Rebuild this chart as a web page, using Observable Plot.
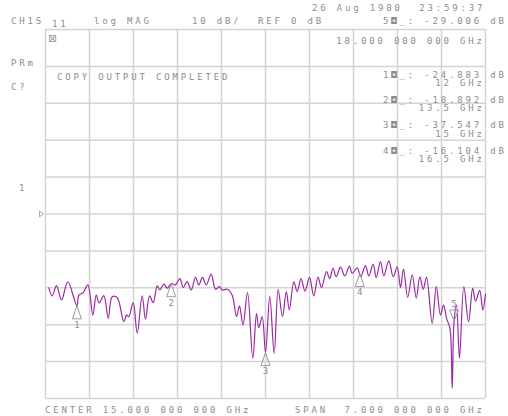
<!DOCTYPE html>
<html><head><meta charset="utf-8">
<script src="https://cdn.jsdelivr.net/npm/d3@7"></script>
<script src="https://cdn.jsdelivr.net/npm/@observablehq/plot@0.6"></script>
<style>
body{margin:0;background:#fff;}
#chart svg{display:block;}
</style></head><body><div id="chart"></div>
<script>
// S11 log magnitude trace (GHz, dB)
const freqGHz = [11.553,11.607,11.675,11.755,11.855,12.0,12.03,12.10,12.173,12.253,
12.307,12.354,12.428,12.498,12.561,12.641,12.746,12.789,12.825,12.895,
12.959,13.038,13.091,13.155,13.213,13.277,13.318,13.382,13.436,13.5,
13.568,13.637,13.691,13.754,13.818,13.886,13.939,13.998,14.057,14.136,
14.205,14.268,14.311,14.391,14.470,14.539,14.586,14.642,14.714,14.798,
14.857,14.893,14.948,15.0,15.068,15.138,15.202,15.270,15.331,15.379,
15.450,15.504,15.565,15.628,15.700,15.768,15.835,15.891,15.970,16.021,
16.074,16.125,16.193,16.262,16.336,16.379,16.459,16.515,16.591,16.643,
16.713,16.761,16.830,16.882,16.962,17.032,17.095,17.148,17.195,17.262,
17.334,17.399,17.455,17.509,17.561,17.652,17.717,17.784,17.832,17.884,
17.935,17.970,18.0,18.039,18.086,18.155,18.230,18.296,18.341,18.408,18.457,18.5];
const magDB = [-20.0,-22.2,-19.4,-23.3,-18.4,-24.9,-22.0,-21.3,-19.2,-27.4,
-22.0,-24.1,-22.1,-28.3,-22.4,-22.7,-29.2,-27.4,-27.8,-24.0,
-32.3,-22.2,-28.5,-22.2,-24.0,-19.5,-20.6,-19.0,-20.1,-18.9,
-19.2,-17.5,-19.9,-18.3,-20.6,-17.2,-19.2,-17.2,-19.2,-16.3,
-20.4,-19.7,-20.6,-20.4,-22.0,-27.8,-24.9,-30.1,-21.3,-39.1,
-27.0,-30.8,-27.8,-37.5,-22.3,-37.8,-20.5,-27.8,-21.1,-26.0,
-18.4,-21.0,-17.5,-20.9,-17.2,-22.2,-17.1,-19.9,-15.6,-17.5,
-14.7,-17.0,-14.4,-16.8,-14.1,-16.1,-14.6,-17.0,-14.0,-16.8,
-13.6,-17.2,-12.9,-16.8,-12.7,-17.0,-14.3,-19.9,-14.9,-22.6,
-16.5,-22.8,-17.0,-20.4,-17.1,-29.6,-19.7,-27.4,-24.7,-28.5,
-31.0,-47.2,-29.0,-24.7,-39.1,-19.7,-29.2,-20.1,-23.6,-20.7,-26.0,-21.7];

// markers
const markerIds = ["1","2","3","4","5"];
const markerFreq = [12, 13.5, 15, 16.5, 18];
const markerFreqText = ["12", "13.5", "15", "16.5", "18.000 000 000"];
const markerMag = [-24.883, -18.892, -37.547, -16.104, -29.006];

// graticule (10 divisions each)
const xGrid = [11.5,12.2,12.9,13.6,14.3,15.0,15.7,16.4,17.1,17.8,18.5];
const yGrid = [-50,-40,-30,-20,-10,0,10,20,30,40,50];

// status texts
const dateText = "26 Aug 1980  23:59:37";
const chanText = "CH1S";
const paramText = "11";
const formatText = "log MAG";
const scaleText = "10 dB/";
const refText = "REF 0 dB";
const msgText = "COPY OUTPUT COMPLETED";
const sideTexts = ["PRm", "C?"];
const traceLabel = "1";
const centerText = "CENTER 15.000 000 000 GHz";
const spanText = "SPAN  7.000 000 000 GHz";

const trace = freqGHz.map((f, i) => ({f, m: magDB[i]}));
const markers = markerIds.map((id, i) => ({id, f: markerFreq[i], m: markerMag[i], ft: markerFreqText[i]}));
const up = markers.filter(d => d.id !== "5");
const down = markers.filter(d => d.id === "5");

const triUp = {draw(c){ c.moveTo(0,0); c.lineTo(4.5,13); c.lineTo(-4.5,13); c.closePath(); }};
const triDown = {draw(c){ c.moveTo(0,0); c.lineTo(4.5,-11); c.lineTo(-4.5,-11); c.closePath(); }};
const refTri = {draw(c){ c.moveTo(-2,-3); c.lineTo(2,0); c.lineTo(-2,3); c.closePath(); }};

const grey = "#8c8c8c";
const chart = Plot.plot({
  width: 508, height: 416,
  marginLeft: 45, marginRight: 23, marginTop: 29, marginBottom: 18,
  x: {domain: [11.5, 18.5], axis: null},
  y: {domain: [-50, 50], axis: null},
  style: {background: "#fff", fontFamily: "'DejaVu Sans Mono', monospace"},
  marks: [
    Plot.ruleX(xGrid, {stroke: "#d4d4d4", strokeWidth: 1.5}),
    Plot.ruleY(yGrid, {stroke: "#d4d4d4", strokeWidth: 1.5}),
    Plot.line(trace, {x: "f", y: "m", stroke: "#9a2aa2", strokeWidth: 1.2, curve: "catmull-rom"}),
    Plot.dot(up, {x: "f", y: "m", symbol: triUp, stroke: "#9a9a9a", fill: "none", strokeWidth: 1}),
    Plot.text(up, {x: "f", y: "m", text: "id", dy: 19, fill: grey, fontSize: 9}),
    Plot.dot(down, {x: "f", y: "m", symbol: triDown, stroke: "#9a9a9a", fill: "none", strokeWidth: 1}),
    Plot.text(down, {x: "f", y: "m", text: "id", dy: -17, fill: grey, fontSize: 9}),
    Plot.dot([0], {y: d => d, frameAnchor: "left", dx: -4, symbol: refTri, stroke: "#aaa", fill: "none", strokeWidth: 1})
  ]
});
document.getElementById("chart").appendChild(chart);

// instrument annotation texts
const svg = d3.select(chart);
const g = svg.append("g").attr("fill", grey).attr("font-family", "'DejaVu Sans Mono', monospace")
  .attr("font-size", 9).attr("letter-spacing", 2.83).attr("text-anchor", "start")
  .style("white-space", "pre");
const pitch = 8.25, glyph = 5.4;
function put(t, x, y, anchorRight) {
  const sx = anchorRight ? x - (t.length - 1) * pitch - glyph : x;
  g.append("text").attr("x", sx).attr("y", y).attr("text-anchor", "start").text(t);
}
const m5 = markers[4];
put(dateText, 312, 10.5);
put(chanText, 11, 24);
put(paramText, 52, 27);
put(formatText, 94, 24);
put(scaleText, 192, 24);
put(refText, 258, 24);
put(`${m5.id}◘_: ${m5.m.toFixed(3)} dB`, 383, 24);
put(`${m5.ft} GHz`, 482, 43.5, true);
put(sideTexts[0], 11, 65.5);
put(msgText, 57, 79.5);
put(sideTexts[1], 11, 89.5);
put(traceLabel, 19, 190.5);
put(centerText, 45, 412.5);
put(spanText, 295, 412.5);
const rowY = [77.5, 102.5, 128, 153.5];
markers.slice(0, 4).forEach((d, i) => {
  put(`${d.id}◘_: ${d.m.toFixed(3)} dB`, 383, rowY[i]);
  put(`${d.ft} GHz`, 482, rowY[i] + 8.5, true);
});
svg.append("text").attr("x", 48).attr("y", 42).attr("font-size", 11).attr("text-anchor", "start")
  .attr("font-family", "DejaVu Sans").attr("fill", "#999").text("⊠");
</script>
</body></html>
